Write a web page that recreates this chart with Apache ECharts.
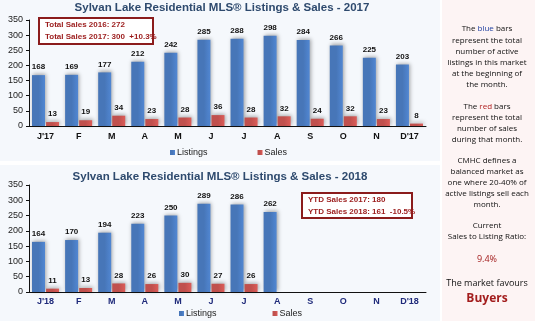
<!DOCTYPE html>
<html><head><meta charset="utf-8">
<script src="https://cdn.jsdelivr.net/npm/echarts@6/dist/echarts.min.js"></script>
<style>html,body{margin:0;padding:0;background:#fff}#c{width:535px;height:321px}</style>
</head><body><div id="c"></div>
<script>
const months2017 = ["J'17","F","M","A","M","J","J","A","S","O","N","D'17"];
const months2018 = ["J'18","F","M","A","M","J","J","A","S","O","N","D'18"];
const listings2017 = [168,169,177,212,242,285,288,298,284,266,225,203];
const sales2017 = [13,19,34,23,28,36,28,32,24,32,23,8];
const listings2018 = [164,170,194,223,250,289,286,262,null,null,null,null];
const sales2018 = [11,13,28,26,30,27,26,null,null,null,null,null];
const yTicks = {min:0, max:350, interval:50};

const blue = '#4776b8', red = '#c0504d';
const chart = echarts.init(document.getElementById('c'));
const labelStyle = {show:true, position:'top', distance:4, fontSize:8, fontWeight:'bold', fontFamily:'Arial', color:'#111'};
function bar(name, data, color, idx){
  return {name, type:'bar', data, xAxisIndex:idx, yAxisIndex:idx, barWidth:13, barGap:'8%',
    itemStyle:{color: new echarts.graphic.LinearGradient(0,0,1,0,[{offset:0,color:color},{offset:0.5,color:color},{offset:1,color:echarts.color.lift(color,-0.15)}]),
      shadowColor:'rgba(0,0,0,0.35)', shadowBlur:4, shadowOffsetX:1, shadowOffsetY:-1},
    label: labelStyle};
}
function xAx(idx, data, color, margin){
  return {type:'category', gridIndex:idx, data, axisLine:{lineStyle:{color:'#111'}}, axisTick:{show:false},
    axisLabel:{fontSize:9, fontWeight:'bold', fontFamily:'Arial', color, margin}};
}
function yAx(idx){
  return {type:'value', gridIndex:idx, min:yTicks.min, max:yTicks.max, interval:yTicks.interval,
    axisLine:{show:true, lineStyle:{color:'#111'}}, axisTick:{show:true, length:3, lineStyle:{color:'#111'}}, splitLine:{show:false},
    axisLabel:{fontSize:9, fontFamily:'Arial', color:'#222', margin:6}};
}
const boxText = {fill:'#9b1b1b', fontSize:8, fontWeight:'bold', fontFamily:'Arial', lineHeight:12};
const panelFont = {fontFamily:'"Open Sans", "Noto Sans", sans-serif', fontSize:8, fill:'#111', align:'center', lineHeight:11};
const titleStyle = {fontSize:11.5, fontWeight:'bold', fontFamily:'Arial', color:'#2e4a6e'};

chart.setOption({
  animation:false,
  title:[
    {text:'Sylvan Lake Residential MLS® Listings & Sales - 2017', left:222, textAlign:'center', top:2, padding:0, textStyle:titleStyle},
    {text:'Sylvan Lake Residential MLS® Listings & Sales - 2018', left:220, textAlign:'center', top:171, padding:0, textStyle:titleStyle}
  ],
  legend:[
    {data:['Listings','Sales'], left:165, top:143, itemWidth:5, itemHeight:5, itemGap:50, icon:'rect', textStyle:{fontSize:9, fontFamily:'Arial', color:'#222', padding:[0,0,0,-3]}},
    {data:['Listings','Sales'], left:174, top:304, itemWidth:5, itemHeight:5, itemGap:56, icon:'rect', textStyle:{fontSize:9, fontFamily:'Arial', color:'#222', padding:[0,0,0,-3]}}
  ],
  grid:[
    {left:29, right:109, top:20, bottom:195},
    {left:29, right:109, top:185, bottom:29}
  ],
  xAxis:[xAx(0, months2017, '#111', 6), xAx(1, months2018, '#1f2a7a', 5)],
  yAxis:[yAx(0), yAx(1)],
  series:[
    bar('Listings', listings2017, blue, 0),
    bar('Sales', sales2017, red, 0),
    bar('Listings', listings2018, blue, 1),
    bar('Sales', sales2018, red, 1)
  ],
  graphic:[
    {type:'rect', z:-10, shape:{x:0,y:0,width:440,height:161}, style:{fill:'#f5f8fc'}},
    {type:'rect', z:-10, shape:{x:0,y:165,width:440,height:156}, style:{fill:'#f5f8fc'}},
    {type:'rect', z:-10, shape:{x:442,y:0,width:93,height:321}, style:{fill:'#fdf4f4'}},
    {type:'rect', shape:{x:39,y:18,width:114,height:26}, style:{fill:'#fff', stroke:'#8b1c1c', lineWidth:2}},
    {type:'text', style:Object.assign({x:45, y:31, text:'Total Sales 2016: 272\nTotal Sales 2017: 300  +10.3%', verticalAlign:'middle'}, boxText)},
    {type:'rect', shape:{x:302,y:193,width:110,height:25}, style:{fill:'#fff', stroke:'#8b1c1c', lineWidth:2}},
    {type:'text', style:Object.assign({x:308, y:205.5, text:'YTD Sales 2017: 180\nYTD Sales 2018: 161  -10.5%', verticalAlign:'middle'}, boxText)},
    {type:'text', style:Object.assign({}, panelFont, {x:487, y:29, verticalAlign:'middle', text:'{k|The }{b|blue}{k| bars}', rich:{k:{fontSize:8, fontFamily:'"Open Sans", sans-serif', fill:'#111'}, b:{fontSize:8, fontFamily:'"Open Sans", sans-serif', fill:'#1f3fa0'}}})},
    {type:'text', style:Object.assign({}, panelFont, {x:487, y:62.5, verticalAlign:'middle', text:'represent the total\nnumber of active\nlistings in this market\nat the beginning of\nthe month.'})},
    {type:'text', style:Object.assign({}, panelFont, {x:487, y:107, verticalAlign:'middle', text:'{k|The }{b|red}{k| bars}', rich:{k:{fontSize:8, fontFamily:'"Open Sans", sans-serif', fill:'#111'}, b:{fontSize:8, fontFamily:'"Open Sans", sans-serif', fill:'#b01e1e'}}})},
    {type:'text', style:Object.assign({}, panelFont, {x:487, y:129, verticalAlign:'middle', text:'represent the total\nnumber of sales\nduring that month.'})},
    {type:'text', style:Object.assign({}, panelFont, {x:487, y:183, verticalAlign:'middle', text:'CMHC defines a\nbalanced market as\none where 20-40% of\nactive listings sell each\nmonth.'})},
    {type:'text', style:Object.assign({}, panelFont, {x:487, y:231.5, verticalAlign:'middle', text:'Current\nSales to Listing Ratio:'})},
    {type:'text', style:Object.assign({}, panelFont, {x:487, y:259, verticalAlign:'middle', fontSize:9, fill:'#a31d1d', text:'9.4%'})},
    {type:'text', style:Object.assign({}, panelFont, {x:487, y:283, verticalAlign:'middle', fontSize:9, text:'The market favours'})},
    {type:'text', style:Object.assign({}, panelFont, {x:487, y:299, verticalAlign:'middle', fontSize:12, fontWeight:'bold', fill:'#a31d1d', text:'Buyers'})}
  ]
});
</script></body></html>
